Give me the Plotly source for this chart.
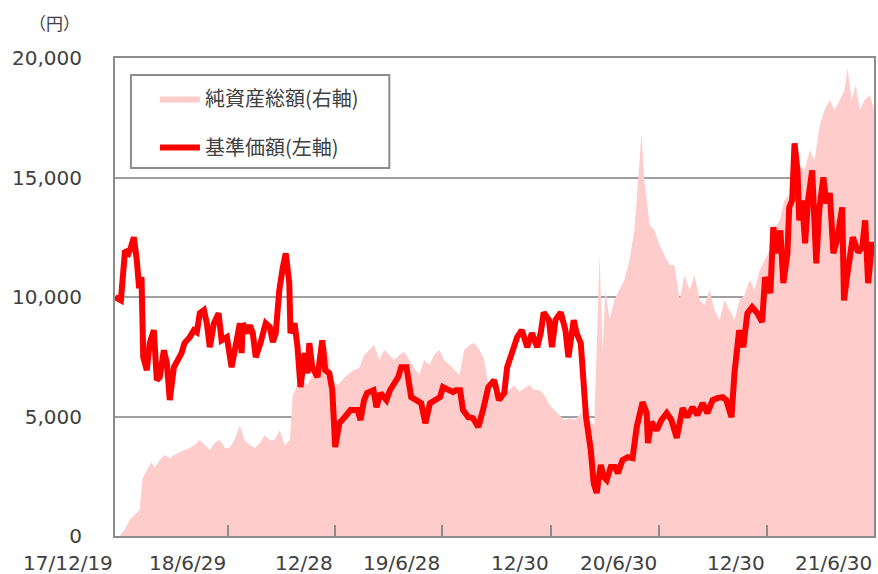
import plotly.graph_objects as go

# 基準価額 (円)
nav_dates = [
    "2017-12-19","2017-12-29","2018-01-05","2018-01-11","2018-01-15","2018-01-20","2018-01-25","2018-01-29",
    "2018-02-02","2018-02-05","2018-02-11","2018-02-16","2018-02-23","2018-02-28","2018-03-05","2018-03-12",
    "2018-03-17","2018-03-22","2018-03-29","2018-04-06","2018-04-11","2018-04-16","2018-04-25","2018-05-02",
    "2018-05-07","2018-05-12","2018-05-19","2018-05-24","2018-05-29","2018-06-05","2018-06-13","2018-06-18",
    "2018-06-27","2018-07-05","2018-07-14","2018-07-19","2018-07-22","2018-07-24","2018-08-01","2018-08-05",
    "2018-08-10","2018-08-15","2018-08-23","2018-09-01","2018-09-08","2018-09-13","2018-09-18","2018-09-24",
    "2018-09-30","2018-10-05","2018-10-11","2018-10-13","2018-10-20","2018-10-25","2018-10-30","2018-11-06",
    "2018-11-11","2018-11-14","2018-11-19","2018-11-28","2018-12-06","2018-12-11","2018-12-18","2018-12-23",
    "2018-12-28","2019-01-04","2019-01-13","2019-01-23","2019-02-04","2019-02-09","2019-02-15","2019-02-20",
    "2019-03-03","2019-03-08","2019-03-15","2019-03-25","2019-03-31","2019-04-09","2019-04-14","2019-04-19",
    "2019-04-28","2019-05-06","2019-05-15","2019-05-23","2019-05-30","2019-06-07","2019-06-16","2019-06-24",
    "2019-06-29","2019-07-08","2019-07-16","2019-07-21","2019-07-28","2019-08-02","2019-08-11","2019-08-19",
    "2019-08-28","2019-09-05","2019-09-14","2019-09-24","2019-10-02","2019-10-11","2019-10-16","2019-10-24",
    "2019-11-02","2019-11-10","2019-11-19","2019-11-27","2019-12-06","2019-12-12","2019-12-17","2019-12-26",
    "2019-12-31","2020-01-06","2020-01-15","2020-01-23","2020-01-28","2020-02-06","2020-02-11","2020-02-18",
    "2020-02-23","2020-02-27","2020-03-06","2020-03-11","2020-03-16","2020-03-23","2020-03-28","2020-04-02",
    "2020-04-09","2020-04-16","2020-04-21","2020-04-29","2020-05-08","2020-05-16","2020-05-23","2020-05-28",
    "2020-06-02","2020-06-09","2020-06-11","2020-06-17","2020-06-26","2020-07-04","2020-07-13","2020-07-21",
    "2020-07-30","2020-08-04","2020-08-09","2020-08-17","2020-08-26","2020-09-03","2020-09-12","2020-09-20",
    "2020-09-29","2020-10-07","2020-10-16","2020-10-22","2020-10-31","2020-11-05","2020-11-08","2020-11-13",
    "2020-11-20","2020-11-27","2020-12-05","2020-12-14","2020-12-22","2020-12-27","2021-01-05","2021-01-10",
    "2021-01-17","2021-01-22","2021-01-27","2021-02-03","2021-02-06","2021-02-11","2021-02-15","2021-02-20",
    "2021-02-23","2021-02-28","2021-03-05","2021-03-10","2021-03-17","2021-03-24","2021-03-29","2021-04-05",
    "2021-04-10","2021-04-16","2021-04-22","2021-04-28","2021-05-07","2021-05-10","2021-05-15","2021-05-20",
    "2021-05-25","2021-06-03","2021-06-10","2021-06-15","2021-06-20","2021-06-27","2021-06-30",
]
nav_values = [
    10000, 9860, 11950, 11830, 12080, 12500, 11540, 10370,
    10830, 7480, 6940, 8070, 8610, 6520, 6650, 7770,
    7230, 5690, 7060, 7360, 7650, 8070, 8320, 8610,
    8530, 9320, 9450, 8900, 7900, 8900, 9320, 8190,
    8320, 7060, 8190, 8900, 7650, 8900, 8490, 8820,
    8490, 7480, 8070, 8900, 8740, 8110, 8490, 10280,
    11240, 11830, 10580, 8490, 8900, 7900, 6230, 7650,
    6810, 8070, 7060, 6650, 8190, 6940, 6810, 6100,
    3720, 4720, 4970, 5270, 5270, 4850, 5690, 5980,
    6100, 5390, 5980, 5690, 6100, 6400, 6650, 7060,
    7060, 5810, 5690, 5560, 4720, 5560, 5690, 5810,
    6230, 6100, 6020, 6100, 6100, 5270, 4970, 4930,
    4560, 5270, 6230, 6520, 5690, 5980, 7060, 7650,
    8320, 8610, 7900, 8490, 7900, 8490, 9360, 9030,
    7900, 9030, 9360, 8610, 7480, 9030, 8490, 8070,
    6400, 4970, 3600, 2200, 1800, 2970, 2470, 2340,
    2890, 2890, 2630, 3180, 3300, 3260, 4560, 5140,
    5600, 5140, 3890, 4770, 4430, 4850, 5140, 4850,
    4100, 4720, 5350, 4970, 5390, 5060, 5560, 5140,
    5690, 5770, 5810, 5690, 4970, 6810, 7650, 8610,
    7900, 9320, 9570, 9320, 8950, 10830, 10160, 12920,
    11830, 12790, 10580, 11830, 13750, 14040, 16430, 15300,
    13210, 14040, 12250, 14040, 15300, 11410, 13630, 15010,
    13920, 14340, 11830, 12370, 13750, 9860, 10830, 11540,
    12500, 11870, 12080, 13210, 10580, 12290, 11800,
]

# 純資産総額 (右軸, 億円)
asset_dates = [
    "2017-12-27","2018-01-04","2018-01-13","2018-01-21","2018-01-30","2018-02-04","2018-02-12","2018-02-19",
    "2018-02-24","2018-03-05","2018-03-13","2018-03-22","2018-03-30","2018-04-08","2018-04-16","2018-04-25",
    "2018-05-03","2018-05-12","2018-05-20","2018-05-29","2018-06-06","2018-06-15","2018-06-24","2018-07-01",
    "2018-07-10","2018-07-19","2018-07-27","2018-08-05","2018-08-13","2018-08-22","2018-08-30","2018-09-08",
    "2018-09-16","2018-09-25","2018-10-03","2018-10-12","2018-10-17","2018-10-25","2018-11-02","2018-11-11",
    "2018-11-19","2018-11-28","2018-12-06","2018-12-15","2018-12-23","2019-01-01","2019-01-09","2019-01-17",
    "2019-01-29","2019-02-07","2019-02-15","2019-02-24","2019-03-04","2019-03-13","2019-03-21","2019-03-30",
    "2019-04-07","2019-04-16","2019-04-24","2019-05-03","2019-05-11","2019-05-20","2019-05-28","2019-06-06",
    "2019-06-14","2019-06-23","2019-07-01","2019-07-10","2019-07-18","2019-07-27","2019-08-04","2019-08-13",
    "2019-08-21","2019-08-30","2019-09-07","2019-09-16","2019-09-24","2019-10-03","2019-10-11","2019-10-20",
    "2019-10-28","2019-11-06","2019-11-14","2019-11-23","2019-12-01","2019-12-10","2019-12-18","2019-12-27",
    "2020-01-04","2020-01-13","2020-01-21","2020-01-30","2020-02-07","2020-02-16","2020-02-24","2020-03-04",
    "2020-03-12","2020-03-21","2020-03-26","2020-03-31","2020-04-07","2020-04-15","2020-04-24","2020-05-02",
    "2020-05-11","2020-05-19","2020-05-28","2020-05-31","2020-06-05","2020-06-14","2020-06-22","2020-07-01",
    "2020-07-09","2020-07-18","2020-07-26","2020-08-04","2020-08-12","2020-08-21","2020-08-29","2020-09-07",
    "2020-09-15","2020-09-24","2020-10-02","2020-10-11","2020-10-19","2020-10-28","2020-11-05","2020-11-14",
    "2020-11-22","2020-12-01","2020-12-09","2020-12-18","2020-12-26","2021-01-04","2021-01-12","2021-01-21",
    "2021-01-29","2021-02-07","2021-02-15","2021-02-24","2021-03-04","2021-03-13","2021-03-21","2021-03-30",
    "2021-04-07","2021-04-16","2021-04-24","2021-05-03","2021-05-11","2021-05-16","2021-05-23","2021-05-30",
    "2021-06-06","2021-06-14","2021-06-23","2021-06-30",
]
asset_values = [
    0, 2.5, 6.7, 8.8, 10.9, 24.3, 27.6, 31.0,
    28.5, 31.8, 33.9, 32.6, 33.9, 35.1, 36.0, 36.8,
    38.1, 40.2, 38.1, 36.0, 38.9, 40.2, 36.8, 36.8,
    40.2, 46.4, 40.2, 38.1, 36.8, 38.9, 42.3, 40.2,
    40.2, 44.4, 38.1, 40.2, 59.0, 63.2, 65.3, 63.2,
    67.4, 73.6, 82.8, 77.8, 65.3, 63.2, 65.3, 67.4,
    69.5, 70.3, 75.7, 77.8, 79.9, 73.6, 77.8, 75.7,
    73.6, 75.7, 77.0, 73.6, 70.3, 67.4, 73.6, 71.5,
    75.7, 77.8, 73.6, 71.5, 69.5, 67.4, 77.8, 79.9,
    80.8, 77.8, 73.6, 61.1, 59.0, 59.0, 60.2, 61.1,
    63.2, 60.2, 61.9, 63.2, 61.1, 61.1, 59.0, 54.8,
    52.7, 50.6, 48.5, 49.4, 48.5, 50.6, 52.7, 48.5,
    46.4, 117.6, 77.8, 102.9, 90.4, 98.7, 102.9, 107.1,
    115.5, 128.0, 157.3, 168.6, 149.0, 130.1, 128.0, 121.8,
    117.6, 113.4, 113.4, 98.7, 109.2, 102.9, 109.2, 98.7,
    96.7, 102.9, 94.6, 90.4, 98.7, 94.6, 90.4, 98.7,
    100.8, 107.1, 102.9, 111.3, 115.5, 119.7, 128.0, 132.2,
    140.6, 142.7, 144.8, 155.2, 153.1, 161.5, 157.3, 172.0,
    178.2, 182.4, 178.2, 182.4, 186.6, 195.8, 182.4, 188.7,
    178.2, 182.4, 184.5, 178.2,
]

tick_dates = ["2017-12-19", "2018-06-29", "2018-12-28", "2019-06-28",
              "2019-12-30", "2020-06-30", "2020-12-30", "2021-06-30"]
tick_labels = ["17/12/19", "18/6/29", "12/28", "19/6/28",
               "12/30", "20/6/30", "12/30", "21/6/30"]
y_ticks = [0, 5000, 10000, 15000, 20000]
y_tick_labels = ["0", "5,000", "10,000", "15,000", "20,000"]
asset_grid = [0, 50, 100, 150, 200]

NUM_FONT = "Verdana, DejaVu Sans, sans-serif"
JP_FONT = "Noto Sans CJK JP, sans-serif"
GRAY = "#8c8c8c"
TXT = "#404040"

fig = go.Figure()
fig.add_trace(go.Scatter(
    x=asset_dates, y=asset_values, name="純資産総額(右軸)", yaxis="y",
    mode="lines", line=dict(width=0, color="#FFCCCC"), fill="tozeroy",
    fillcolor="#FFCCCC", legendgroup="a",
))
fig.add_trace(go.Scatter(
    x=nav_dates, y=nav_values, name="基準価額(左軸)", yaxis="y2", mode="lines",
    line=dict(color="#FF0000", width=6), legendgroup="b",
))

for d, t in zip(tick_dates, tick_labels):
    fig.add_annotation(x=d, y=0, xref="x", yref="paper", text=t, showarrow=False,
                       xanchor="right", yanchor="top", yshift=-13,
                       font=dict(family=NUM_FONT, size=20, color=TXT))

fig.add_annotation(x=-0.080, y=1.075, xref="paper", yref="paper", text="（円）",
                   showarrow=False, xanchor="center", yanchor="middle",
                   font=dict(family=JP_FONT, size=17, color=TXT))

# legend frame
fig.add_shape(type="rect", xref="paper", yref="paper", x0=0.021, x1=0.3614,
              y0=0.770, y1=0.9644, line=dict(color=GRAY, width=2),
              fillcolor="white", layer="above")

fig.update_layout(
    width=878, height=574,
    margin=dict(l=115, r=2, t=58, b=38),
    paper_bgcolor="white", plot_bgcolor="white",
    showlegend=True,
    legend=dict(x=0.0526, y=0.956, xanchor="left", yanchor="top",
                borderwidth=0, bgcolor="rgba(0,0,0,0)",
                font=dict(family=JP_FONT, size=20, color=TXT),
                itemwidth=40, tracegroupgap=20, traceorder="grouped"),
    xaxis=dict(type="date", range=["2017-12-19", "2021-06-30"],
               tickvals=tick_dates, showticklabels=False,
               ticks="inside", ticklen=11, tickwidth=2, tickcolor=GRAY,
               showgrid=False, showline=True, linecolor=GRAY, linewidth=2,
               mirror=True, zeroline=False),
    yaxis=dict(range=[0, 200], tickvals=asset_grid, showticklabels=False,
               ticks="", showgrid=True, gridcolor="#a0a0a0", gridwidth=2,
               showline=True, linecolor=GRAY, linewidth=2, mirror=True,
               zeroline=False),
    yaxis2=dict(range=[0, 20000], overlaying="y", side="left",
                tickvals=y_ticks, ticktext=y_tick_labels,
                ticks="outside", ticklen=28, tickcolor="rgba(0,0,0,0)",
                tickfont=dict(family=NUM_FONT, size=20, color=TXT),
                showgrid=False, showline=False, zeroline=False),
)

fig.write_html("out.html", config={"displayModeBar": False},
               post_script="document.body.style.margin='0';")
